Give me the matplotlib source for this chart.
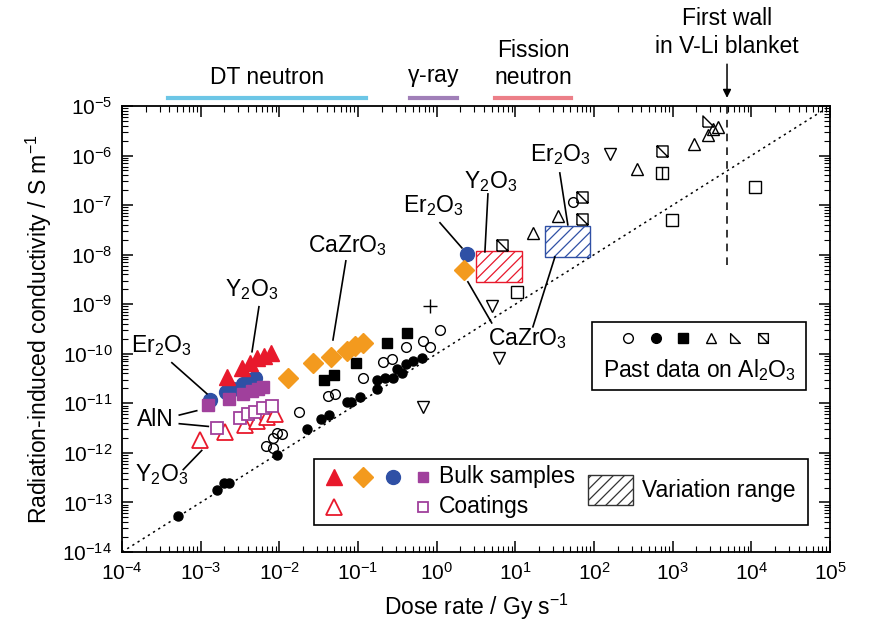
import numpy as np
import matplotlib
matplotlib.use("Agg")
import matplotlib.pyplot as plt
from matplotlib.path import Path
from matplotlib.patches import Rectangle
from matplotlib.ticker import LogLocator, NullFormatter

plt.rcParams['font.family'] = ['Liberation Sans', 'DejaVu Sans']
plt.rcParams['mathtext.default'] = 'regular'
plt.rcParams['hatch.linewidth'] = 0.9

# ---- present work: bulk samples ----
y2o3_bulk_x = [2.16e-3, 3.35e-3, 4.2e-3, 5.2e-3, 6.4e-3, 7.8e-3]
y2o3_bulk_y = [3.4e-11, 5.2e-11, 6.6e-11, 8.3e-11, 9.1e-11, 1.05e-10]
cazro3_bulk_x = [1.29e-2, 2.67e-2, 4.53e-2, 7.2e-2, 9.1e-2, 0.115, 2.2]
cazro3_bulk_y = [3.3e-11, 6.6e-11, 8.7e-11, 1.15e-10, 1.45e-10, 1.66e-10, 4.9e-9]
er2o3_bulk_x = [1.31e-3, 2.1e-3, 2.57e-3, 3.44e-3, 4.2e-3, 4.9e-3, 2.4]
er2o3_bulk_y = [1.18e-11, 1.7e-11, 1.97e-11, 2.5e-11, 3.0e-11, 3.3e-11, 1.02e-8]
aln_bulk_x = [1.24e-3, 2.29e-3, 3.44e-3, 4.5e-3, 5.35e-3, 6.2e-3]
aln_bulk_y = [9.4e-12, 1.24e-11, 1.56e-11, 1.8e-11, 1.97e-11, 2.16e-11]

# ---- present work: coatings ----
y2o3_coat_x = [9.8e-4, 2.04e-3, 3.65e-3, 5.2e-3, 6.95e-3, 8.8e-3]
y2o3_coat_y = [1.85e-12, 2.67e-12, 3.7e-12, 4.5e-12, 5.4e-12, 6.2e-12]
aln_coat_x = [1.61e-3, 3.15e-3, 4.0e-3, 4.97e-3, 6.2e-3, 8.05e-3]
aln_coat_y = [3.2e-12, 5.1e-12, 6.0e-12, 6.8e-12, 8.0e-12, 8.95e-12]

# ---- variation ranges (dose x0, x1, sigma y0, y1) ----
y2o3_range = [3.2, 12.0, 2.8e-9, 1.16e-8]
er2o3_range = [23.7, 88.5, 9.1e-9, 3.86e-8]

# ---- past data on Al2O3 ----
al_open_circ_x = [6.76e-3, 8.3e-3, 8.3e-3, 9.3e-3, 1.08e-2, 1.77e-2, 4.15e-2, 5.1e-2,
                  0.115, 0.207, 0.27, 0.406, 0.668, 0.82, 1.1, 53.8]
al_open_circ_y = [1.4e-12, 1.27e-12, 2.0e-12, 2.55e-12, 2.44e-12, 6.8e-12, 1.42e-11, 1.56e-11,
                  3.3e-11, 6.9e-11, 7.9e-11, 1.38e-10, 1.83e-10, 1.38e-10, 3.05e-10, 1.16e-7]
al_fill_circ_x = [5.15e-4, 1.61e-3, 1.98e-3, 2.29e-3, 9.3e-3, 2.24e-2, 3.38e-2, 4.27e-2,
                  7.2e-2, 8.1e-2, 0.106, 0.174, 0.174, 0.22, 0.277, 0.312, 0.361, 0.406,
                  0.499, 0.649]
al_fill_circ_y = [5.4e-14, 1.81e-13, 2.5e-13, 2.5e-13, 9.2e-13, 3.08e-12, 4.9e-12, 5.9e-12,
                  1.08e-11, 1.08e-11, 1.36e-11, 1.97e-11, 3.0e-11, 3.3e-11, 3.3e-11, 5.0e-11,
                  4.1e-11, 6.3e-11, 7.2e-11, 8.3e-11]
al_fill_sq_x = [3.69e-2, 4.94e-2, 9.4e-2, 0.233, 0.418]
al_fill_sq_y = [3.0e-11, 3.78e-11, 6.6e-11, 1.67e-10, 2.65e-10]
al_tri_up_x = [16.7, 34.7, 350, 1855, 2790, 3230, 3740]
al_tri_up_y = [2.7e-8, 6.05e-8, 5.3e-7, 1.71e-6, 2.6e-6, 3.39e-6, 3.72e-6]
al_tri_down_x = [0.668, 6.2, 5.0, 158]
al_tri_down_y = [8.5e-12, 8.3e-11, 9.0e-10, 1.08e-6]
al_right_tri_x = [2790]
al_right_tri_y = [5.06e-6]
al_diag_sq_x = [6.7, 69.3, 69.3, 721]
al_diag_sq_y = [1.58e-8, 1.48e-7, 5.2e-8, 1.26e-6]
al_vline_sq_x = [721]
al_vline_sq_y = [4.4e-7]
al_open_sq_x = [10.4, 975, 1.1e4]
al_open_sq_y = [1.8e-9, 5.0e-8, 2.36e-7]
al_plus_x = [0.82]
al_plus_y = [9.1e-10]

# slope-one guide and first-wall dose rate
guide_x = [1e-4, 1e5]
guide_y = [1e-14, 1e-5]
first_wall_dose = 4.9e3
first_wall_y = [6.2e-9, 1e-5]

# irradiation source dose-rate spans
sources = ['DT neutron', r'$\gamma$-ray', 'Fission\nneutron']
source_span = [(3.85e-4, 0.126), (0.456, 1.81), (5.5, 50.7)]
source_color = ['#6cc6e6', '#a07fb8', '#ec7f88']

RED = '#e8192c'
ORANGE = '#f39a1e'
BLUE = '#2f50a5'
PURPLE = '#a0409c'

M = Path.MOVETO
L = Path.LINETO
diag_sq = Path([(-1, -1), (1, -1), (1, 1), (-1, 1), (-1, -1), (-1, 1), (1, -1)],
               [M, L, L, L, L, M, L])
vline_sq = Path([(-1, -1), (1, -1), (1, 1), (-1, 1), (-1, -1), (0, 1), (0, -1)],
                [M, L, L, L, L, M, L])
right_tri = Path([(-1, -1), (1, -1), (-1, 1), (-1, -1)], [M, L, L, L])

fig = plt.figure(figsize=(8.71, 6.25), dpi=100)
ax = fig.add_axes([0.1401, 0.1168, 0.8129, 0.7136])
ax.set_xscale('log')
ax.set_yscale('log')
ax.set_xlim(1e-4, 1e5)
ax.set_ylim(1e-14, 1e-5)

ax.plot(guide_x, guide_y, ls=(0, (1.5, 2.5)), color='k', lw=1.1, zorder=1)
ax.plot([first_wall_dose] * 2, first_wall_y, ls=(0, (5, 4)), color='k', lw=1.1, zorder=1)

# past data
kw = dict(ls='none', color='k', zorder=3)
ax.plot(al_fill_circ_x, al_fill_circ_y, marker='o', ms=6.5, **kw)
ax.plot(al_open_circ_x, al_open_circ_y, marker='o', ms=7, mfc='none', mew=1.0, **kw)
ax.plot(al_fill_sq_x, al_fill_sq_y, marker='s', ms=6.5, **kw)
ax.plot(al_tri_up_x, al_tri_up_y, marker='^', ms=8, mfc='none', mew=1.0, **kw)
ax.plot(al_tri_down_x, al_tri_down_y, marker='v', ms=8, mfc='none', mew=1.0, **kw)
ax.plot(al_right_tri_x, al_right_tri_y, marker=right_tri, ms=8, mfc='none', mew=1.0, **kw)
ax.plot(al_diag_sq_x, al_diag_sq_y, marker=diag_sq, ms=8, mfc='none', mew=1.0, **kw)
ax.plot(al_vline_sq_x, al_vline_sq_y, marker=vline_sq, ms=8, mfc='none', mew=1.0, **kw)
ax.plot(al_open_sq_x, al_open_sq_y, marker='s', ms=8, mfc='none', mew=1.0, **kw)
ax.plot(al_plus_x, al_plus_y, marker='+', ms=10, mew=1.0, **kw)

# variation ranges
for rng, col in [(y2o3_range, RED), (er2o3_range, BLUE)]:
    ax.add_patch(Rectangle((rng[0], rng[2]), rng[1] - rng[0], rng[3] - rng[2],
                           facecolor='white', edgecolor=col, hatch='///', lw=1.0, zorder=2))

# present work
ax.plot(y2o3_coat_x, y2o3_coat_y, ls='none', marker='^', ms=12, mfc='white', mec=RED, mew=1.3, zorder=4)
ax.plot(aln_coat_x, aln_coat_y, ls='none', marker='s', ms=8.5, mfc='white', mec=PURPLE, mew=1.3, zorder=4)
ax.plot(aln_bulk_x, aln_bulk_y, ls='none', marker='s', ms=9, color=PURPLE, zorder=5)
ax.plot(er2o3_bulk_x, er2o3_bulk_y, ls='none', marker='o', ms=10, color=BLUE, zorder=4)
ax.plot(y2o3_bulk_x, y2o3_bulk_y, ls='none', marker='^', ms=11, color=RED, zorder=4)
ax.plot(cazro3_bulk_x, cazro3_bulk_y, ls='none', marker='D', ms=10, color=ORANGE, zorder=4)

# callout labels: (text, text position, list of leader lines)
callouts = [
    ('Er$_2$O$_3$', (3.18e-4, 1.45e-10), [((4.3e-4, 1.2e-3), (6.6e-11, 1.56e-11))]),
    ('AlN', (2.62e-4, 4.67e-12), [((5.35e-4, 8.9e-4), (5.8e-12, 7.1e-12)),
                                  ((5.35e-4, 1.25e-3), (3.88e-12, 3.42e-12))]),
    ('Y$_2$O$_3$', (3.18e-4, 3.6e-13), [((6.0e-4, 1.03e-3), (4.6e-13, 1.12e-12))]),
    ('Y$_2$O$_3$', (4.49e-3, 1.95e-9), [((5.5e-3, 4.49e-3), (8.9e-10, 1.1e-10))]),
    ('CaZrO$_3$', (7.45e-2, 1.5e-8), [((7.0e-2, 4.8e-2), (7.5e-9, 1.9e-10))]),
    ('Er$_2$O$_3$', (0.895, 9.6e-8), [((1.1, 2.09), (4.4e-8, 1.37e-8))]),
    ('Y$_2$O$_3$', (4.89, 2.94e-7), [((4.48, 4.1), (1.68e-7, 1.14e-8))]),
    ('Er$_2$O$_3$', (37.8, 1.03e-6), [((36.7, 46.4), (4.46e-7, 4.0e-8))]),
    ('CaZrO$_3$', (14.4, 2.0e-10), [((5.0, 2.49), (4.2e-10, 2.83e-9)),
                                    ((16.7, 31.8), (3.5e-10, 9.0e-9))]),
]
for label, (tx, ty), lines in callouts:
    ax.text(tx, ty, label, ha='center', va='center', fontsize=16.5, zorder=6)
    for lx, ly in lines:
        ax.plot(lx, ly, color='k', lw=1.2, zorder=6)

# source bars above the axes
trans = ax.get_xaxis_transform()
for name, (x0, x1), col in zip(sources, source_span, source_color):
    ax.plot([x0, x1], [1.018, 1.018], color=col, lw=3, transform=trans, clip_on=False)
    ypos = 1.094 if '\n' in name else 1.063
    ax.text(np.sqrt(x0 * x1), ypos, name, transform=trans, ha='center', va='center',
            fontsize=16.5, linespacing=1.2)

ax.annotate('', xy=(first_wall_dose, 1.012), xytext=(first_wall_dose, 1.10), xycoords=trans,
            arrowprops=dict(arrowstyle='-|>', color='k', lw=1.1, mutation_scale=12))
ax.text(first_wall_dose, 1.165, 'First wall\nin V-Li blanket', transform=trans,
        ha='center', va='center', fontsize=16.5, linespacing=1.25)

# legend box: past data
ax.add_patch(Rectangle((0.6634, 0.3632), 0.3027, 0.1532, transform=ax.transAxes,
                       facecolor='white', edgecolor='k', lw=1.2, zorder=7))
past_markers = [('o', 'none'), ('o', 'k'), ('s', 'k'), ('^', 'none'), (right_tri, 'none'), (diag_sq, 'none')]
past_pos = [0.7143, 0.7542, 0.7919, 0.8319, 0.8658, 0.9049]
for (mk, fc), px in zip(past_markers, past_pos):
    ax.plot([px], [0.4791], marker=mk, ms=7, mfc=fc, mec='k', mew=1.0, ls='none',
            transform=ax.transAxes, zorder=8, clip_on=False)
ax.text(0.815, 0.408, 'Past data on Al$_2$O$_3$', transform=ax.transAxes,
        ha='center', va='center', fontsize=16.5, zorder=8)

# legend box: present work
ax.add_patch(Rectangle((0.2712, 0.0605), 0.6977, 0.148, transform=ax.transAxes,
                       facecolor='white', edgecolor='k', lw=1.2, zorder=7))
bulk_markers = [('^', RED, 11), ('D', ORANGE, 10), ('o', BLUE, 10), ('s', PURPLE, 7)]
bulk_pos = [0.2999, 0.3408, 0.3832, 0.4256]
for (mk, col, ms), px in zip(bulk_markers, bulk_pos):
    ax.plot([px], [0.1688], marker=mk, ms=ms, color=col, ls='none',
            transform=ax.transAxes, zorder=8)
ax.plot([0.2999], [0.1016], marker='^', ms=12, mfc='white', mec=RED, mew=1.3, ls='none',
        transform=ax.transAxes, zorder=8)
ax.plot([0.4256], [0.1016], marker='s', ms=7, mfc='white', mec=PURPLE, mew=1.3, ls='none',
        transform=ax.transAxes, zorder=8)
ax.text(0.447, 0.1688, 'Bulk samples', transform=ax.transAxes, ha='left', va='center',
        fontsize=16.5, zorder=8)
ax.text(0.447, 0.1016, 'Coatings', transform=ax.transAxes, ha='left', va='center',
        fontsize=16.5, zorder=8)
ax.add_patch(Rectangle((0.6586, 0.1054), 0.0636, 0.0672, transform=ax.transAxes,
                       facecolor='white', edgecolor='#333333', hatch='///', lw=1.0, zorder=8))
ax.text(0.734, 0.139, 'Variation range', transform=ax.transAxes, ha='left', va='center',
        fontsize=16.5, zorder=8)

# ticks
for axis in (ax.xaxis, ax.yaxis):
    axis.set_major_locator(LogLocator(base=10, numticks=20))
    axis.set_minor_locator(LogLocator(base=10, subs=np.arange(2, 10), numticks=200))
    axis.set_minor_formatter(NullFormatter())
ax.tick_params(which='both', direction='in', top=True, right=True, labelsize=15)
ax.tick_params(which='major', length=8, width=1.1, pad=7)
ax.tick_params(which='minor', length=4, width=0.8)
for sp in ax.spines.values():
    sp.set_linewidth(1.3)

ax.set_xlabel('Dose rate / Gy s$^{-1}$', fontsize=16.5, labelpad=6)
ax.set_ylabel('Radiation-induced conductivity / S m$^{-1}$', fontsize=16.5, labelpad=6)

fig.savefig('out.png', dpi=100)
